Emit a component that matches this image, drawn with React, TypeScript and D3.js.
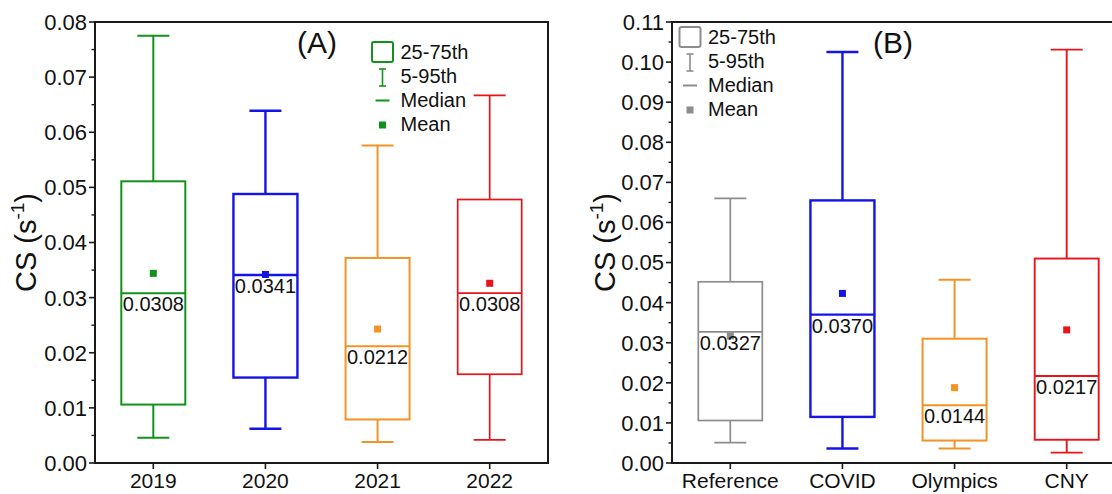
import React from 'react';
import * as d3 from 'd3';

// ---------- Data ----------
const catsA = ['2019', '2020', '2021', '2022'];
const p5A = [0.0046, 0.0062, 0.0038, 0.0042];
const q1A = [0.0106, 0.0155, 0.0079, 0.0161];
const medA = [0.0308, 0.0341, 0.0212, 0.0308];
const q3A = [0.0511, 0.0488, 0.0372, 0.0478];
const p95A = [0.0775, 0.0639, 0.0576, 0.0667];
const meanA = [0.0344, 0.0342, 0.0243, 0.0326];
const ticksA = [0, 0.01, 0.02, 0.03, 0.04, 0.05, 0.06, 0.07, 0.08];

const catsB = ['Reference', 'COVID', 'Olympics', 'CNY'];
const p5B = [0.0051, 0.0036, 0.0036, 0.0026];
const q1B = [0.0106, 0.0115, 0.0056, 0.0058];
const medB = [0.0327, 0.037, 0.0144, 0.0217];
const q3B = [0.0452, 0.0655, 0.031, 0.051];
const p95B = [0.066, 0.1025, 0.0457, 0.1031];
const meanB = [0.0317, 0.0423, 0.0188, 0.0332];
const ticksB = [0, 0.01, 0.02, 0.03, 0.04, 0.05, 0.06, 0.07, 0.08, 0.09, 0.1, 0.11];

const legendLabels = ['25-75th', '5-95th', 'Median', 'Mean'];

const colorsA = ['#12921a', '#1414e6', '#f39325', '#e8141a'];
const colorsB = ['#8c8c8c', '#1414e6', '#f39325', '#e8141a'];
const widthsA = [2, 2.4, 2, 1.7];
const widthsB = [1.7, 2.4, 2, 1.9];

const FONT = "'Liberation Sans', Arial, Helvetica, sans-serif";

type PanelProps = {
  cats: string[];
  p5: number[]; q1: number[]; med: number[]; q3: number[]; p95: number[]; mean: number[];
  ticks: number[];
  colors: string[];
  widths: number[];
  x0: number; x1: number; y0: number; y1: number;
  title: string; titleX: number;
  ylabelX: number;
  legendColor: string;
  legendX: number; legendY: number;
};

function Panel(p: PanelProps) {
  const yMax = p.ticks[p.ticks.length - 1];
  const y = d3.scaleLinear().domain([0, yMax]).range([p.y1, p.y0]);
  const x = d3.scalePoint<string>().domain(p.cats).range([p.x0, p.x1]).padding(0.52);
  const fmt = d3.format('.2f');
  const fmtMed = d3.format('.4f');
  const minor: number[] = [];
  for (let i = 0; i < p.ticks.length - 1; i++) minor.push((p.ticks[i] + p.ticks[i + 1]) / 2);
  const boxW = 64;
  const capW = 32;
  const lc = p.legendColor;
  const lx = p.legendX;
  const ly = p.legendY;
  return (
    <g>
      {/* frame */}
      <rect x={p.x0} y={p.y0} width={p.x1 - p.x0} height={p.y1 - p.y0} fill="none" stroke="#1a1a1a" strokeWidth={2} />
      {/* y ticks */}
      {p.ticks.map((t) => (
        <g key={'t' + t}>
          <line x1={p.x0 - 6} x2={p.x0} y1={y(t)} y2={y(t)} stroke="#1a1a1a" strokeWidth={1.6} />
          <text x={p.x0 - 8} y={y(t)} dy="0.36em" textAnchor="end" fontSize={22} fontFamily={FONT} fill="#111">{fmt(t)}</text>
        </g>
      ))}
      {minor.map((t) => (
        <line key={'m' + t} x1={p.x0 - 3.5} x2={p.x0} y1={y(t)} y2={y(t)} stroke="#1a1a1a" strokeWidth={1.4} />
      ))}
      {/* x ticks */}
      {p.cats.map((c) => (
        <g key={'x' + c}>
          <line x1={x(c)} x2={x(c)} y1={p.y1} y2={p.y1 + 6} stroke="#1a1a1a" strokeWidth={1.6} />
          <text x={x(c)} y={488} textAnchor="middle" fontSize={21} fontFamily={FONT} fill="#111">{c}</text>
        </g>
      ))}
      {/* boxes */}
      {p.cats.map((c, i) => {
        const cx = x(c) as number;
        const col = p.colors[i];
        const sw = p.widths[i];
        return (
          <g key={'b' + c} stroke={col} strokeWidth={sw} fill="none">
            <line x1={cx} x2={cx} y1={y(p.q3[i])} y2={y(p.p95[i])} />
            <line x1={cx - capW / 2} x2={cx + capW / 2} y1={y(p.p95[i])} y2={y(p.p95[i])} />
            <line x1={cx} x2={cx} y1={y(p.q1[i])} y2={y(p.p5[i])} />
            <line x1={cx - capW / 2} x2={cx + capW / 2} y1={y(p.p5[i])} y2={y(p.p5[i])} />
            <rect x={cx - boxW / 2} y={y(p.q3[i])} width={boxW} height={y(p.q1[i]) - y(p.q3[i])} fill="#fff" />
            <line x1={cx - boxW / 2} x2={cx + boxW / 2} y1={y(p.med[i])} y2={y(p.med[i])} />
            <rect x={cx - 3.5} y={y(p.mean[i]) - 3.5} width={7} height={7} fill={col} stroke="none" />
            <text x={cx} y={y(p.med[i]) + 18} textAnchor="middle" fontSize={20} fontFamily={FONT} fill="#111" stroke="none">{fmtMed(p.med[i])}</text>
          </g>
        );
      })}
      {/* title */}
      <text x={p.titleX} y={53} textAnchor="middle" fontSize={30} fontFamily={FONT} fill="#111">{p.title}</text>
      {/* y label */}
      <text transform={`translate(${p.ylabelX},${(p.y0 + p.y1) / 2}) rotate(-90)`} textAnchor="middle" fontSize={29} fontFamily={FONT} fill="#111">
        CS (s<tspan dy={-12} fontSize={19}>-1</tspan><tspan dy={12}>)</tspan>
      </text>
      {/* legend */}
      <g fontFamily={FONT} fontSize={20} fill="#111">
        <rect x={lx - 10.5} y={ly - 15} width={21} height={20} rx={2} fill="none" stroke={lc} strokeWidth={2} />
        <text x={lx + 18} y={ly + 1.5}>{legendLabels[0]}</text>
        <line x1={lx} x2={lx} y1={ly + 12} y2={ly + 29} stroke={lc} strokeWidth={1.6} />
        <line x1={lx - 3.5} x2={lx + 3.5} y1={ly + 12} y2={ly + 12} stroke={lc} strokeWidth={1.6} />
        <line x1={lx - 3.5} x2={lx + 3.5} y1={ly + 29} y2={ly + 29} stroke={lc} strokeWidth={1.6} />
        <text x={lx + 18} y={ly + 26}>{legendLabels[1]}</text>
        <line x1={lx - 7} x2={lx + 7} y1={ly + 43.5} y2={ly + 43.5} stroke={lc} strokeWidth={2} />
        <text x={lx + 18} y={ly + 50}>{legendLabels[2]}</text>
        <rect x={lx - 3.5} y={ly + 64.5} width={7} height={7} fill={lc} />
        <text x={lx + 18} y={ly + 74}>{legendLabels[3]}</text>
      </g>
    </g>
  );
}

export default function App() {
  return (
    <svg width={1112} height={494} viewBox="0 0 1112 494" style={{ position: 'absolute', left: 0, top: 0, background: '#fff' }}>
      <rect x={0} y={0} width={1112} height={494} fill="#fff" />
      <Panel
        cats={catsA} p5={p5A} q1={q1A} med={medA} q3={q3A} p95={p95A} mean={meanA}
        ticks={ticksA} colors={colorsA} widths={widthsA}
        x0={95} x1={548} y0={22} y1={463}
        title="(A)" titleX={317} ylabelX={36}
        legendColor={colorsA[0]} legendX={382.5} legendY={57}
      />
      <Panel
        cats={catsB} p5={p5B} q1={q1B} med={medB} q3={q3B} p95={p95B} mean={meanB}
        ticks={ticksB} colors={colorsB} widths={widthsB}
        x0={672} x1={1125} y0={22} y1={463}
        title="(B)" titleX={893} ylabelX={615}
        legendColor={colorsB[0]} legendX={690} legendY={42}
      />
    </svg>
  );
}
